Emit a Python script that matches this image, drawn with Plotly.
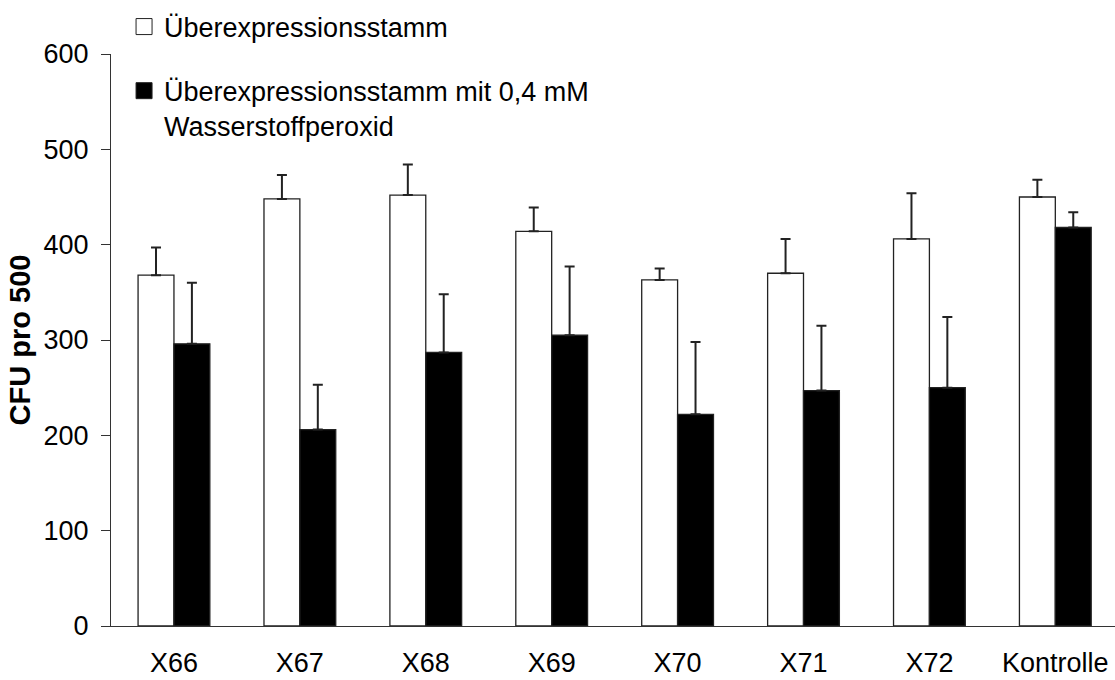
import plotly.graph_objects as go

categories = ["X66", "X67", "X68", "X69", "X70", "X71", "X72", "Kontrolle"]
series_names = ["Überexpressionsstamm",
                "Überexpressionsstamm mit 0,4 mM<br>Wasserstoffperoxid"]
values_plain = [368, 448, 452, 414, 363, 370, 406, 450]
errors_plain = [29, 25, 32, 25, 12, 36, 48, 18]
values_h2o2 = [296, 206, 287, 305, 222, 247, 250, 418]
errors_h2o2 = [64, 47, 61, 72, 76, 68, 74, 16]
y_ticks = [0, 100, 200, 300, 400, 500, 600]

FONT = "Liberation Sans, Arial, sans-serif"
EDGE = "#222222"

fig = go.Figure()
for name, vals, errs, fill, grp in [
    (series_names[0], values_plain, errors_plain, "white", "a"),
    (series_names[1], values_h2o2, errors_h2o2, "black", "b"),
]:
    fig.add_trace(go.Bar(
        x=categories, y=vals, name=name, legendgroup=grp, showlegend=False,
        marker=dict(color=fill, line=dict(color=EDGE, width=1.3)),
        error_y=dict(type="data", symmetric=False, array=errs,
                     arrayminus=[0] * len(errs), color=EDGE,
                     thickness=2, width=5),
    ))
    # legend proxy with a larger square symbol
    fig.add_trace(go.Scatter(
        x=[None], y=[None], mode="markers", name=name, legendgroup=grp,
        marker=dict(symbol="square", size=16, color=fill,
                    line=dict(color=EDGE, width=1)),
        hoverinfo="skip",
    ))

fig.update_layout(
    width=1115, height=680,
    margin=dict(l=111, r=0, t=54, b=54, autoexpand=False),
    paper_bgcolor="white", plot_bgcolor="white",
    font=dict(family=FONT, size=27, color="black"),
    barmode="group", bargap=0.43, bargroupgap=0,
    showlegend=True,
    legend=dict(x=0.013, y=1.09, xanchor="left", yanchor="top",
                bgcolor="rgba(0,0,0,0)", traceorder="grouped",
                tracegroupgap=26, itemwidth=30, valign="top",
                font=dict(family=FONT, size=27, color="black")),
    xaxis=dict(range=[-0.5, 7.474], showline=True, linecolor="#333333",
               linewidth=1, ticks="", showgrid=False, zeroline=False,
               ticklabelstandoff=13, tickfont=dict(size=27)),
    yaxis=dict(range=[0, 600], tickvals=y_ticks, showline=True,
               linecolor="#333333", linewidth=1, ticks="outside",
               ticklen=9, tickcolor="#333333", tickwidth=1,
               showgrid=False, zeroline=False, ticklabelstandoff=7,
               tickfont=dict(size=27),
               title=dict(text="CFU pro 500", standoff=4,
                          font=dict(size=29, weight="bold"))),
)

fig.write_html("out.html")
